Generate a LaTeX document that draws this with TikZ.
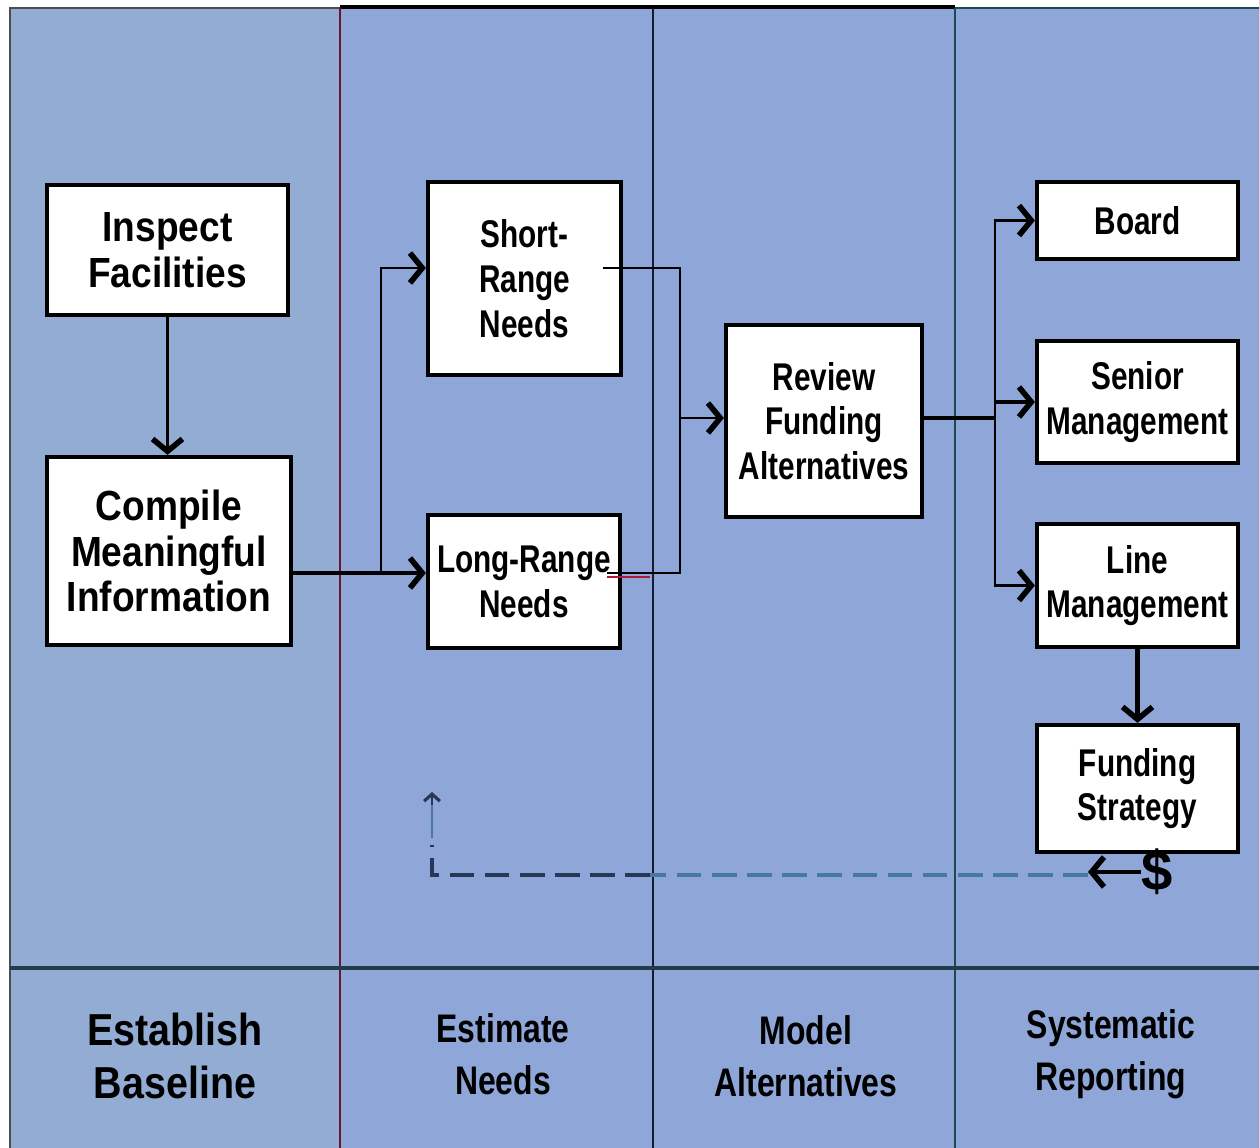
\documentclass[tikz,border=0pt]{standalone}
\usepackage{fontspec}
\setmainfont{Liberation Sans}
\newfontfamily\narf[FakeStretch=0.77]{Liberation Sans}
\newfontfamily\widef[FakeStretch=0.88]{Liberation Sans}
\newfontfamily\labf[FakeStretch=0.80]{Liberation Sans}
\usetikzlibrary{arrows.meta}
\definecolor{panelA}{RGB}{147,172,212}
\definecolor{panelB}{RGB}{142,167,216}
\definecolor{divred}{RGB}{110,20,45}
\definecolor{divnavy}{RGB}{25,25,45}
\definecolor{divteal}{RGB}{25,75,80}
\definecolor{hline}{RGB}{35,60,75}
\definecolor{dashdark}{RGB}{40,55,85}
\definecolor{dashteal}{RGB}{70,120,160}
\definecolor{redseg}{RGB}{170,25,55}
\tikzset{
  box/.style={draw=black, fill=white, line width=2.4pt, inner sep=0pt, align=center,
    font=\narf\bfseries\fontsize{22}{25.5}\selectfont},
  wbox/.style={box, font=\widef\bfseries\fontsize{24}{26}\selectfont},
  lab/.style={align=center, inner sep=0pt, font=\labf\bfseries\fontsize{22.7}{29.5}\selectfont},
  thinln/.style={draw=black, line width=1.4pt},
  thickln/.style={draw=black, line width=2.8pt},
  arr/.style={-{Straight Barb[length=7pt,width=17pt,line width=3.2pt 0 1]}},
  smallarr/.style={-{Straight Barb[length=4pt,width=9pt,line width=1.8pt 0 1]}},
  dashln/.style={line width=2.6pt, dash pattern=on 14pt off 6pt}
}
\begin{document}
\begin{tikzpicture}[x=0.02cm, y=-0.02cm]
\useasboundingbox (0,0) rectangle (1259,1148);
\fill[white] (0,0) rectangle (1259,1148);
\fill[panelA] (10,8) rectangle (340,1148);
\fill[panelB] (340,8) rectangle (1259,1148);
% borders and dividers
\draw[gray!60!black, line width=1pt] (10,1148) -- (10,8) -- (340,8);
\draw[black, line width=2.2pt] (340,7) -- (955,7);
\draw[divteal, line width=1.6pt] (955,8) -- (1259,8);
\draw[divred, line width=1.3pt] (340,8) -- (340,1148);
\draw[divnavy, line width=1.3pt] (653,8) -- (653,1148);
\draw[divteal, line width=1.3pt] (955,8) -- (955,1148);
\draw[hline, line width=2.5pt] (10,968) -- (1259,968);

% boxes
\node[wbox, minimum width=4.82cm, minimum height=2.60cm] (inspect) at (167.5,250) {Inspect\\Facilities};
\node[wbox, minimum width=4.88cm, minimum height=3.76cm] (compile) at (169,551) {Compile\\Meaningful\\Information};
\node[box, minimum width=3.86cm, minimum height=3.86cm] (short) at (524.5,278.5) {Short-\\Range\\Needs};
\node[box, minimum width=3.84cm, minimum height=2.66cm] (long) at (524,581.5) {Long-Range\\Needs};
\node[box, minimum width=3.92cm, minimum height=3.84cm] (review) at (824,421) {Review\\Funding\\Alternatives};
\node[box, minimum width=4.02cm, minimum height=1.54cm] (board) at (1137.5,220.5) {Board};
\node[box, minimum width=4.02cm, minimum height=2.44cm] (senior) at (1137.5,402) {Senior\\Management};
\node[box, minimum width=4.02cm, minimum height=2.46cm] (linem) at (1137.5,585.5) {Line\\Management};
\node[box, minimum width=4.02cm, minimum height=2.54cm] (funding) at (1137.5,788.5) {Funding\\Strategy};

% connectors
\draw[thinln, arr] (inspect.south) -- (inspect.south |- compile.north);
\coordinate (j1) at (381,573);
\coordinate (j2) at (381,268);
\draw[thickln, arr] (compile.east |- j1) -- (long.west |- j1);
\draw[thinln, arr] (j1) -- (j2) -- (short.west |- j2);
\coordinate (s1) at (603,268);
\coordinate (l1) at (607,573);
\coordinate (m1) at (680,268);
\coordinate (m2) at (680,573);
\coordinate (m3) at (680,418);
\draw[thinln] (s1) -- (m1) -- (m2) -- (l1);
\draw[redseg, line width=1.3pt] (607,577) -- (650,577);
\draw[thinln, arr] (m3) -- (review.west |- m3);
\coordinate (r1) at (995,418);
\draw[thickln] (review.east |- r1) -- (r1);
\draw[thinln, arr] (r1) |- (board.west);
\draw[thinln, arr] (r1) |- (linem.west);
\draw[thickln, arr] (r1 |- senior.west) -- (senior.west);
\draw[thickln, arr] (linem.south) -- (funding.north);

% feedback
\node[inner sep=0pt, font=\bfseries\fontsize{32}{32}\selectfont] (dollar) at (1157,872) {\$};
\coordinate (d0) at (1088,875);
\coordinate (dmid) at (650,875);
\coordinate (dc) at (432,875);
\coordinate (d1) at (432,792);
\draw[thickln, arr] (dollar.west) -- (dollar.west -| d0);
\draw[dashteal, dashln] (d0) -- (dmid);
\draw[dashdark, dashln] (dmid) -- (dc) -- (432,845);
\draw[dashteal, line width=1.6pt] (432,838) -- (432,800);
\draw[dashdark, line width=1.6pt, smallarr] (432,805) -- (d1);

% bottom labels
\node[lab, font=\widef\bfseries\fontsize{25.5}{30}\selectfont] (c1) at (175,1056) {Establish\\Baseline};
\node[lab] (c2) at (503,1054) {Estimate\\Needs};
\node[lab] (c3) at (806,1056) {Model\\Alternatives};
\node[lab] (c4) at (1111,1054) {Systematic\\Reporting};
\end{tikzpicture}
\end{document}
